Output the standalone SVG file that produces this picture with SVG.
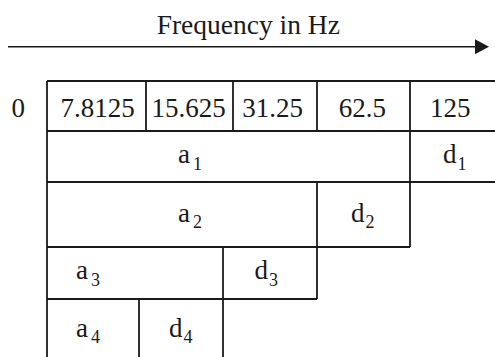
<svg xmlns="http://www.w3.org/2000/svg" width="495" height="357" viewBox="0 0 495 357">
<style>
.t{font-family:"Liberation Serif","Times New Roman",serif;font-size:27px;fill:#1a1a1a}
.s{font-size:18px}
.g{stroke:#1a1a1a;stroke-width:1.8;fill:none}
</style>
<defs>
<marker id="ah" markerWidth="14" markerHeight="15" refX="0" refY="7.5" orient="auto" markerUnits="userSpaceOnUse">
<polygon points="0,0 14,7.5 0,15" fill="#1a1a1a"/>
</marker>
</defs>
<rect width="495" height="357" fill="#fff"/>
<g id="axis">
<text class="t" x="248.3" y="34" text-anchor="middle" style="font-size:27.5px">Frequency in Hz</text>
<line x1="8" y1="46.7" x2="475" y2="46.7" stroke="#1a1a1a" stroke-width="1.6" marker-end="url(#ah)"/>
</g>
<g id="connectors" class="g">
<line x1="47" y1="81" x2="495" y2="81"/>
<line x1="47" y1="131" x2="495" y2="131"/>
<line x1="47" y1="182" x2="495" y2="182"/>
<line x1="47" y1="247" x2="410" y2="247"/>
<line x1="47" y1="299" x2="317" y2="299"/>
<line x1="47" y1="81" x2="47" y2="357"/>
<line x1="146" y1="81" x2="146" y2="131"/>
<line x1="233" y1="81" x2="233" y2="131"/>
<line x1="317" y1="81" x2="317" y2="131"/>
<line x1="317" y1="182" x2="317" y2="299"/>
<line x1="410" y1="81" x2="410" y2="247"/>
<line x1="223" y1="247" x2="223" y2="357"/>
<line x1="139" y1="299" x2="139" y2="357"/>
</g>
<g id="freq">
<text class="t" x="18.3" y="117.3" text-anchor="middle">0</text>
<text class="t" x="97.7" y="117.3" text-anchor="middle">7.8125</text>
<text class="t" x="188.7" y="117.3" text-anchor="middle">15.625</text>
<text class="t" x="272.5" y="117.3" text-anchor="middle">31.25</text>
<text class="t" x="362.3" y="117.3" text-anchor="middle">62.5</text>
<text class="t" x="450.3" y="117.3" text-anchor="middle">125</text>
</g>
<g id="a1"><text class="t" x="178" y="163.3">a<tspan class="s" dx="3" dy="6.5">1</tspan></text></g>
<g id="d1"><text class="t" x="443" y="163.3">d<tspan class="s" dx="1" dy="6.5">1</tspan></text></g>
<g id="a2"><text class="t" x="178" y="221.7">a<tspan class="s" dx="3" dy="6.5">2</tspan></text></g>
<g id="d2"><text class="t" x="351" y="221.7">d<tspan class="s" dx="1" dy="6.5">2</tspan></text></g>
<g id="a3"><text class="t" x="76" y="279.3">a<tspan class="s" dx="3" dy="6.5">3</tspan></text></g>
<g id="d3"><text class="t" x="254.5" y="279.3">d<tspan class="s" dx="1" dy="6.5">3</tspan></text></g>
<g id="a4"><text class="t" x="76" y="336.7">a<tspan class="s" dx="3" dy="6.5">4</tspan></text></g>
<g id="d4"><text class="t" x="169" y="336.7">d<tspan class="s" dx="1" dy="6.5">4</tspan></text></g>
</svg>
